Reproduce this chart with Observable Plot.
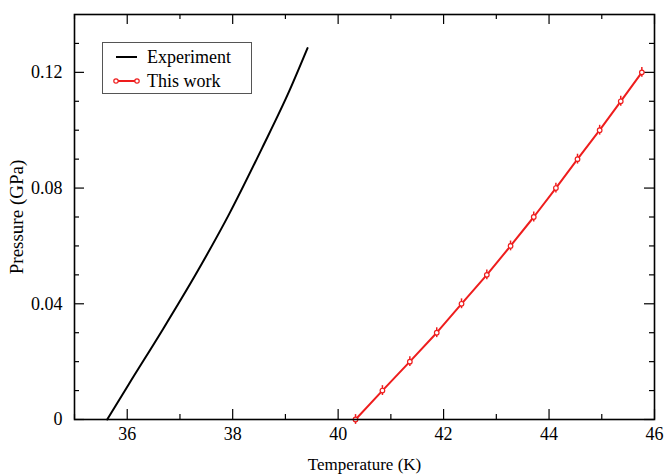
<!DOCTYPE html>
<html>
<head>
<meta charset="utf-8">
<script src="https://cdn.jsdelivr.net/npm/d3@7"></script>
<script src="https://cdn.jsdelivr.net/npm/@observablehq/plot@0.6"></script>
<style>
  html, body { margin: 0; padding: 0; background: #fff; }
  #wrap { position: relative; width: 664px; height: 474px; }
  #legend { position: absolute; left: 102px; top: 42px; width: 150px; height: 52px; border: 1.3px solid #555; background: #fff; box-sizing: border-box; }
</style>
</head>
<body>
<div id="wrap"></div>
<script>
// Experiment (black curve): temperature (K), pressure (GPa)
const expT = [35.62, 36.03, 36.66, 37.30, 37.93, 38.56, 39.07, 39.42];
const expP = [0.0, 0.0122, 0.0307, 0.0502, 0.0709, 0.0939, 0.1134, 0.1284];
// This work (red, with error bars)
const workT = [40.33, 40.84, 41.36, 41.87, 42.34, 42.82, 43.27, 43.71, 44.13, 44.54, 44.96, 45.36, 45.76];
const workP = [0.0, 0.01, 0.02, 0.03, 0.04, 0.05, 0.06, 0.07, 0.08, 0.09, 0.10, 0.11, 0.12];
const workErr = [0.0017, 0.0017, 0.0017, 0.0017, 0.0017, 0.0017, 0.0017, 0.0017, 0.0017, 0.0017, 0.0017, 0.0017, 0.0017];
// ticks
const xMajor = [36, 38, 40, 42, 44, 46];
const xMinor = [35, 37, 39, 41, 43, 45];
const yMajor = [0, 0.04, 0.08, 0.12];
const yMinor = [0.01, 0.02, 0.03, 0.05, 0.06, 0.07, 0.09, 0.10, 0.11, 0.13];
const seriesNames = ["Experiment", "This work"];

const RED = "#ee1d1d";
const exp = expT.map((t, i) => ({T: t, P: expP[i]}));
const work = workT.map((t, i) => ({T: t, P: workP[i], e: workErr[i]}));

const W = 664, H = 474, mL = 74, mR = 10, mT = 14, mB = 55;
const iw = W - mL - mR, ih = H - mT - mB;
const MAJ = 10, MIN = 5;
const FONT = "'Liberation Serif', 'DejaVu Serif', serif";

const plot = Plot.plot({
  width: W, height: H,
  marginLeft: mL, marginRight: mR, marginTop: mT, marginBottom: mB,
  style: {fontFamily: FONT, fontSize: "18px", color: "#000", background: "#fff"},
  x: {domain: [35, 46]},
  y: {domain: [0, 0.14]},
  marks: [
    // inward ticks on all four sides
    Plot.ruleX(xMajor, {x: d => d, insetTop: ih - MAJ, stroke: "#000", strokeWidth: 1.2}),
    Plot.ruleX(xMinor, {x: d => d, insetTop: ih - MIN, stroke: "#000", strokeWidth: 1.2}),
    Plot.ruleX(xMajor, {x: d => d, insetBottom: ih - MAJ, stroke: "#000", strokeWidth: 1.2}),
    Plot.ruleX(xMinor, {x: d => d, insetBottom: ih - MIN, stroke: "#000", strokeWidth: 1.2}),
    Plot.ruleY(yMajor, {y: d => d, insetRight: iw - MAJ, stroke: "#000", strokeWidth: 1.2}),
    Plot.ruleY(yMinor, {y: d => d, insetRight: iw - MIN, stroke: "#000", strokeWidth: 1.2}),
    Plot.ruleY(yMajor, {y: d => d, insetLeft: iw - MAJ, stroke: "#000", strokeWidth: 1.2}),
    Plot.ruleY(yMinor, {y: d => d, insetLeft: iw - MIN, stroke: "#000", strokeWidth: 1.2}),
    Plot.axisX({ticks: xMajor, tickSize: 0, tickPadding: 8, tickFormat: d => String(d), fontSize: 18, label: null}),
    Plot.axisY({ticks: yMajor, tickSize: 0, tickPadding: 12, tickFormat: d => d === 0 ? "0" : d.toFixed(2), fontSize: 18, label: null}),
    Plot.axisX({ticks: [], tickSize: 0, fontSize: 17, label: "Temperature (K)", labelAnchor: "center", labelOffset: 50, labelArrow: "none"}),
    Plot.axisY({ticks: [], tickSize: 0, fontSize: 19, label: "Pressure (GPa)", labelAnchor: "center", labelOffset: 65, labelArrow: "none"}),
    // data
    Plot.line(exp, {x: "T", y: "P", stroke: "#000", strokeWidth: 2, curve: "monotone-x"}),
    Plot.line(work, {x: "T", y: "P", stroke: RED, strokeWidth: 2}),
    Plot.ruleX(work, {x: "T", y1: d => d.P - d.e, y2: d => d.P + d.e, stroke: RED, strokeWidth: 1.5}),
    Plot.dot(work, {x: "T", y: "P", r: 2.3, stroke: RED, fill: "#fff", strokeWidth: 1.2}),
    Plot.frame({stroke: "#000", strokeWidth: 1.6})
  ]
});

const wrap = document.getElementById("wrap");
wrap.appendChild(plot);

// Legend
const leg = document.createElement("div");
leg.id = "legend";
const ns = "http://www.w3.org/2000/svg";
const lsvg = document.createElementNS(ns, "svg");
lsvg.setAttribute("width", 150); lsvg.setAttribute("height", 52);
lsvg.style.position = "absolute"; lsvg.style.left = "-1px"; lsvg.style.top = "-1px";
const items = [{name: seriesNames[0], color: "#000", marker: false}, {name: seriesNames[1], color: RED, marker: true}];
items.forEach((it, i) => {
  const y = 15 + i * 24;
  const ln = document.createElementNS(ns, "line");
  ln.setAttribute("x1", 14); ln.setAttribute("x2", 35); ln.setAttribute("y1", y); ln.setAttribute("y2", y);
  ln.setAttribute("stroke", it.color); ln.setAttribute("stroke-width", 2);
  lsvg.appendChild(ln);
  if (it.marker) {
    [14, 35].forEach(cx => {
      const c = document.createElementNS(ns, "circle");
      c.setAttribute("cx", cx); c.setAttribute("cy", y); c.setAttribute("r", 2.2);
      c.setAttribute("fill", "#fff"); c.setAttribute("stroke", it.color); c.setAttribute("stroke-width", 1.2);
      lsvg.appendChild(c);
    });
  }
  const t = document.createElementNS(ns, "text");
  t.setAttribute("x", 45); t.setAttribute("y", y + 6);
  t.setAttribute("font-family", FONT); t.setAttribute("font-size", 18);
  t.setAttribute("fill", "#000");
  t.textContent = it.name;
  lsvg.appendChild(t);
});
leg.appendChild(lsvg);
wrap.appendChild(leg);
</script>
</body>
</html>
